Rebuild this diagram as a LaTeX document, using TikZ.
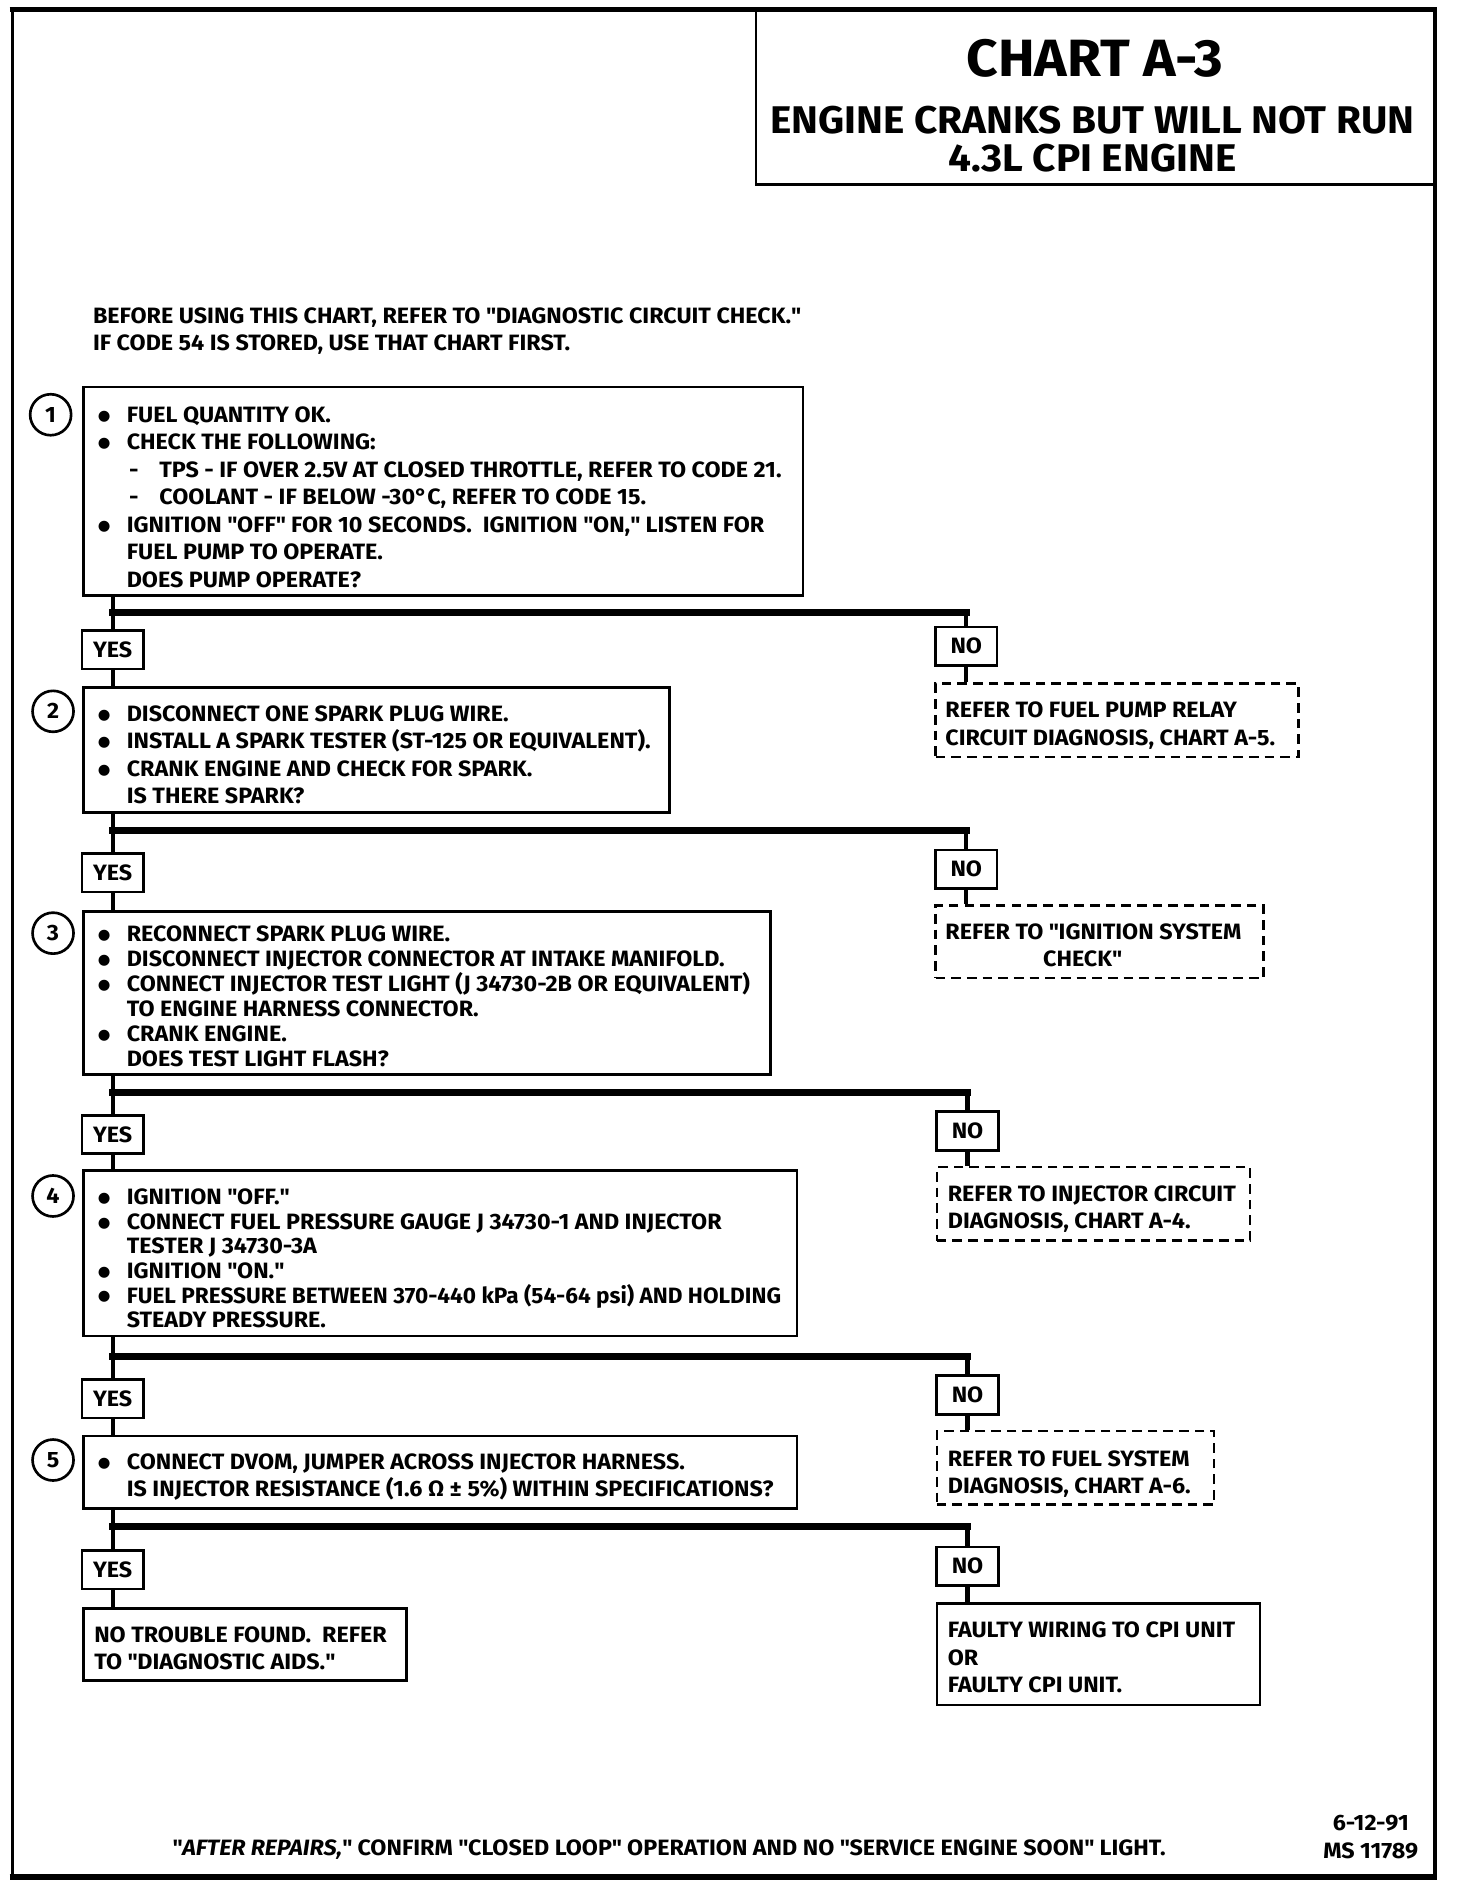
\documentclass[tikz,border=0pt]{standalone}
\usepackage{fontspec}
\setmainfont{Fira Sans}[FakeStretch=1.05]
\newfontfamily\dvfont{DejaVu Sans}
\newcommand{\bodyfont}{\fontsize{18.4}{22.8}\selectfont\bfseries}
\newcommand{\qq}{\XeTeXglyph\XeTeXcharglyph"22\relax}
\newcommand{\bitem}{\makebox[23pt][l]{\hspace*{-1pt}\raisebox{1.8pt}{\dvfont\fontsize{12}{12}\selectfont ●}}}
\newcommand{\sitem}{\makebox[25pt][l]{}\makebox[25pt][l]{-}}
\newcommand{\iitem}{\makebox[23pt][l]{}}
\begin{document}
\begin{tikzpicture}[x=1pt,y=-1pt,
  box/.style={draw, line width=2.2pt, inner sep=0pt, anchor=north west},
  dbox/.style={draw, line width=2pt, dash pattern=on 8pt off 5pt, inner sep=0pt, anchor=north west},
  lbl/.style={draw, line width=2.2pt, inner sep=0pt, minimum width=51pt, minimum height=32pt, font=\bodyfont},
  num/.style={circle, draw, line width=2.2pt, minimum size=34pt, inner sep=0pt, font=\bodyfont},
  txt/.style={anchor=north west, inner sep=0pt, align=left, font=\bodyfont},
  stem/.style={line width=3.5pt},
  bar/.style={line width=5.5pt, line cap=rect},
]
\useasboundingbox (0,0) rectangle (1208,1566);
% outer frame
\draw[line width=2.5pt] (10,8) -- (10,1557);
\draw[line width=4.5pt] (8,8) -- (1192,8);
\draw[line width=3pt] (1190,8) -- (1190,1557);
\draw[line width=4.5pt] (8,1557) -- (1192,1557);
% title box
\node[box, line width=2pt, minimum width=564pt, minimum height=144pt] (tbox) at (626,8) {};
\node[font=\fontsize{43.5}{43.5}\selectfont\bfseries] (t1) at (908,48) {CHART A-3};
\node[font=\fontsize{32}{32}\selectfont\bfseries] (t2) at (906,100) {ENGINE CRANKS BUT WILL NOT RUN};
\node[font=\fontsize{32}{32}\selectfont\bfseries] (t3) at (906,131) {4.3L CPI ENGINE};
% intro
\node[txt] (intro) at (77,255) {BEFORE USING THIS CHART, REFER TO \qq DIAGNOSTIC CIRCUIT CHECK.\qq\\IF CODE 54 IS STORED, USE THAT CHART FIRST.};

% ---------- step 1
\node[num] (c1) at (42,344) {1};
\node[box, minimum width=597pt, minimum height=173pt] (b1) at (68,320) {};
\node[txt] (x1) at (82,337) {\bitem FUEL QUANTITY OK.\\
\bitem CHECK THE FOLLOWING:\\
\sitem TPS - IF OVER 2.5V AT CLOSED THROTTLE, REFER TO CODE 21.\\
\sitem COOLANT - IF BELOW -30°C, REFER TO CODE 15.\\
\bitem IGNITION \qq OFF\qq\ FOR 10 SECONDS.\ \ IGNITION \qq ON,\qq\ LISTEN FOR\\
\iitem FUEL PUMP TO OPERATE.\\
\iitem DOES PUMP OPERATE?};
\node[lbl] (y1) at (93.5,539) {YES};
\node[lbl] (n1) at (801.5,536) {NO};
\node[dbox, minimum width=301pt, minimum height=61pt] (d1) at (775,566) {};
\node[txt] (dx1) at (784,582) {REFER TO FUEL PUMP RELAY\\CIRCUIT DIAGNOSIS, CHART A-5.};
\coordinate (br1) at (0,508);

% ---------- step 2
\node[num] (c2) at (44,590) {2};
\node[box, minimum width=486pt, minimum height=104pt] (b2) at (68,569) {};
\node[txt] (x2) at (82,585) {\bitem DISCONNECT ONE SPARK PLUG WIRE.\\
\bitem INSTALL A SPARK TESTER (ST-125 OR EQUIVALENT).\\
\bitem CRANK ENGINE AND CHECK FOR SPARK.\\
\iitem IS THERE SPARK?};
\node[lbl] (y2) at (93.5,724) {YES};
\node[lbl] (n2) at (801.5,721) {NO};
\node[dbox, minimum width=272pt, minimum height=60pt] (d2) at (775,750) {};
\node[txt] (dx2) at (784,766) {REFER TO \qq IGNITION SYSTEM\\\makebox[81pt]{}CHECK\qq};
\coordinate (br2) at (0,689);

% ---------- step 3
\node[num] (c3) at (44,774) {3};
\node[box, minimum width=570pt, minimum height=135pt] (b3) at (68,755) {};
\node[txt, font=\fontsize{18.4}{20.7}\selectfont\bfseries] (x3) at (82,768) {\bitem RECONNECT SPARK PLUG WIRE.\\
\bitem DISCONNECT INJECTOR CONNECTOR AT INTAKE MANIFOLD.\\
\bitem CONNECT INJECTOR TEST LIGHT (J 34730-2B OR EQUIVALENT)\\
\iitem TO ENGINE HARNESS CONNECTOR.\\
\bitem CRANK ENGINE.\\
\iitem DOES TEST LIGHT FLASH?};
\node[lbl] (y3) at (93.5,941) {YES};
\node[lbl] (n3) at (802.5,938) {NO};
\node[dbox, minimum width=260pt, minimum height=61pt] (d3) at (776,967) {};
\node[txt] (dx3) at (786,983) {REFER TO INJECTOR CIRCUIT\\DIAGNOSIS, CHART A-4.};
\coordinate (br3) at (0,906);

% ---------- step 4
\node[num] (c4) at (44,992) {4};
\node[box, minimum width=592pt, minimum height=137pt] (b4) at (68,970) {};
\node[txt, font=\fontsize{18.4}{20.4}\selectfont\bfseries] (x4) at (82,986) {\bitem IGNITION \qq OFF.\qq\\
\bitem CONNECT FUEL PRESSURE GAUGE J 34730-1 AND INJECTOR\\
\iitem TESTER J 34730-3A\\
\bitem IGNITION \qq ON.\qq\\
\bitem \scalebox{0.97}[1]{FUEL PRESSURE BETWEEN 370-440 kPa (54-64 psi) AND HOLDING}\\
\iitem STEADY PRESSURE.};
\node[lbl] (y4) at (93.5,1160) {YES};
\node[lbl] (n4) at (802.5,1157) {NO};
\node[dbox, minimum width=230pt, minimum height=61pt] (d4) at (776,1186) {};
\node[txt] (dx4) at (786,1203) {REFER TO FUEL SYSTEM\\DIAGNOSIS, CHART A-6.};
\coordinate (br4) at (0,1125);

% ---------- step 5
\node[num] (c5) at (44,1211) {5};
\node[box, minimum width=592pt, minimum height=60pt] (b5) at (68,1190) {};
\node[txt, font=\fontsize{18.4}{22}\selectfont\bfseries] (x5) at (82,1206) {\bitem CONNECT DVOM, JUMPER ACROSS INJECTOR HARNESS.\\
\iitem IS INJECTOR RESISTANCE (1.6 Ω ± 5\%) WITHIN SPECIFICATIONS?};
\node[lbl] (y5) at (93.5,1302) {YES};
\node[lbl] (n5) at (802.5,1299) {NO};
\coordinate (br5) at (0,1266);

% ---------- results
\node[box, minimum width=268pt, minimum height=60pt] (r1) at (68,1333) {};
\node[txt] (rx1) at (78,1349) {NO TROUBLE FOUND.\ \ REFER\\TO \qq DIAGNOSTIC AIDS.\qq};
\node[box, minimum width=268pt, minimum height=84pt] (r2) at (776,1329) {};
\node[txt] (rx2) at (786,1345) {FAULTY WIRING TO CPI UNIT\\OR\\FAULTY CPI UNIT.};

% ---------- connectors
\foreach \b/\y/\n/\br in {b1/y1/n1/br1, b2/y2/n2/br2, b3/y3/n3/br3, b4/y4/n4/br4, b5/y5/n5/br5}{
  \draw[stem] (\y.north |- \b.south) -- (\y.north);
  \draw[bar] (\y.north |- \br) -- (\n.north |- \br);
  \draw[stem] (\n.north |- \br) -- (\n.north);
}
\foreach \y/\b in {y1/b2, y2/b3, y3/b4, y4/b5, y5/r1}{
  \draw[stem] (\y.south) -- (\y.south |- \b.north);
}
\foreach \n/\d in {n1/d1, n2/d2, n3/d3, n4/d4, n5/r2}{
  \draw[stem] (\n.south) -- (\n.south |- \d.north);
}

% footer
\node[font=\bodyfont] (foot) at (555,1534) {\qq\textit{AFTER REPAIRS,}\qq\ CONFIRM \qq CLOSED LOOP\qq\ OPERATION AND NO \qq SERVICE ENGINE SOON\qq\ LIGHT.};
\node[font=\bodyfont, align=center] (ms) at (1137,1524) {6-12-91\\MS 11789};
\end{tikzpicture}
\end{document}
